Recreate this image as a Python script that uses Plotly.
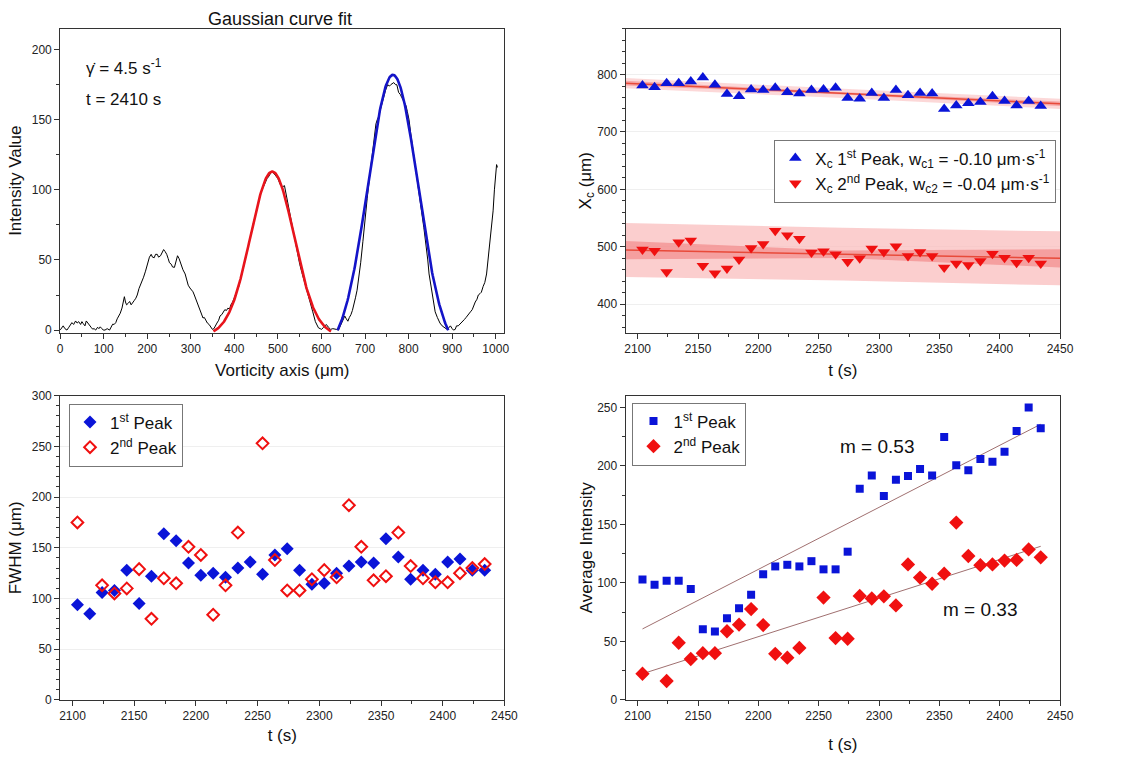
import numpy as np
import plotly.graph_objects as go
from plotly.subplots import make_subplots

FONT = "Arial, Liberation Sans, sans-serif"

# ---------------- intensity profile along the vorticity axis (t = 2410 s) ----------------
profile_x = [0, 4, 7, 11, 15.6, 20, 24, 27, 31, 35.5, 39, 42.6, 47, 50, 53, 57, 60, 63, 67, 71,
             74.5, 78, 81.6, 86, 89, 92, 96, 99, 103, 108, 113.5, 117, 120.6, 124, 127.7, 131,
             134.8, 138, 142, 145, 147.5, 150, 152.5, 156, 159.6, 163, 166.7, 170, 173.8, 177,
             181, 186, 191.5, 196, 199, 202, 205, 209, 212, 216, 219, 223, 226, 230.5, 234,
             237.6, 241, 244.7, 248, 251, 255, 258, 262.4, 266, 269.5, 273, 278, 282, 287, 291,
             294, 298, 301, 305, 308, 312, 316, 319, 322, 325, 328, 331, 335, 338, 342, 346,
             349.5, 353, 356, 360, 364, 367, 371, 375, 378, 382, 385, 389, 392, 396, 400, 405,
             410, 415, 420, 425, 430, 435, 440, 445, 450, 455, 460, 465, 470, 475, 480, 485, 490,
             495, 500, 505, 510, 515, 520, 525, 530, 535, 540, 545, 550, 555, 560, 565, 570, 575,
             580, 586, 590, 593, 597, 600, 605, 611, 616, 621, 626, 630, 634, 639, 643, 646.5,
             650, 653.5, 657, 660.6, 664, 667.6, 671, 674.6, 678, 681.7, 686, 690, 695, 700, 705,
             710, 715, 720, 725, 728, 731, 736, 741.5, 747, 752, 756, 759, 763, 766, 770, 773,
             777, 781, 784, 789, 794, 797, 801, 805, 810, 815, 820, 825, 830, 835, 840, 844, 847,
             851, 855, 858, 861, 866, 872, 877, 882, 886, 889, 893, 896, 900, 903, 907, 910, 914,
             917.5, 921, 925, 928, 932, 935, 939, 942, 946, 950, 953, 957, 960, 964, 967, 971,
             975, 979, 983, 987, 991, 994, 997, 1000, 1002, 1004]
profile_y = [0, 2, 3, 1, 0, 2, 4, 5.3, 4, 6.5, 5, 6, 4, 6, 4.6, 3, 6.5, 5, 3, 2,
             0.7, 1, 0, 2, 1, 2.3, 1, 0, 0, 1, 0, 2, 4.2, 4, 5.3, 8,
             10, 12, 15.7, 20, 23.8, 20, 18, 19, 20.4, 18, 19.2, 21, 22.7, 25,
             29.6, 33, 37.7, 42, 45, 48, 52, 54, 52, 51.6, 54, 54, 52, 53, 55,
             57.4, 56, 54, 51, 48, 47, 45, 44.7, 49, 53, 51, 45.8, 43, 40, 35,
             32, 30, 29, 27.3, 25, 21.5, 18, 15.7, 13, 11, 8.6, 9, 6.3, 5, 4, 2,
             0.5, 1, 3, 5, 7, 10, 11, 13, 14.5, 14, 15.6, 15, 18, 20, 23, 27,
             31, 37, 43, 50, 57, 64, 72, 78, 84, 91, 97, 101, 105, 108, 110, 113, 112,
             110, 108, 104, 102, 103, 95, 86, 78, 70, 62, 55, 47, 41, 35, 30, 24, 18,
             13, 6, 3, 1.6, 1, 0.5, 2, 4, 2, 0.5, 1, 1, 0.5, 0, 3, 5,
             8, 10, 8, 6.3, 9, 11, 14, 18, 23, 28.4, 38, 48, 63, 80, 94,
             108, 122, 135, 147, 150, 152, 158, 165, 171, 175, 174, 175, 176, 176.5, 175, 175,
             169.5, 168, 166, 163, 160, 156, 150, 140, 128, 117, 106, 95, 84, 73, 62, 50, 40,
             32, 25, 18, 13, 9, 5, 3, 1.6, 1, 0.5, 2, 3, 1, 0, 0.5, 3, 3,
             4, 5, 6, 7.5, 9, 10, 12, 13, 14.5, 18, 20, 22, 25, 26, 27, 31,
             34, 40, 52, 62, 75, 85, 100, 113, 118, 116]

# Gaussian fit results, y = y0 + A*exp(-(x-xc)^2 / (2 sigma^2)), drawn over [lo, hi]
fit_peak2 = dict(xc=487.0, A=117.0, sigma=50.0, y0=-4.0, lo=352.0, hi=622.0)
fit_peak1 = dict(xc=764.0, A=199.6, sigma=57.5, y0=-17.6, lo=637.0, hi=891.0)

# ---------------- time series ----------------
t = [2104, 2114, 2124, 2134, 2144, 2154, 2164, 2174, 2184, 2194, 2204, 2214, 2224, 2234, 2244,
     2254, 2264, 2274, 2284, 2294, 2304, 2314, 2324, 2334, 2344, 2354, 2364, 2374, 2384, 2394,
     2404, 2414, 2424, 2434]

xc_peak1 = [781, 778, 785, 785, 788, 795, 782, 766, 762, 774, 773, 777, 769, 767, 773, 774, 777,
            759, 758, 768, 759, 773, 764, 768, 767, 740, 746, 750, 752, 762, 754, 746, 754, 745]
xc_peak2 = [495, 493, 456, 508, 511, 467, 454, 462, 478, 498, 505, 528, 520, 514, 490, 492, 487,
            474, 480, 497, 491, 501, 484, 491, 484, 464, 471, 468, 475, 488, 481, 472, 481, 471]

fwhm_peak1 = [94, 85, 106, 108, 128, 95, 122, 164, 157, 135, 123, 125, 121, 130, 136, 124, 143,
              149, 128, 114, 115, 125, 132, 136, 135, 159, 141, 119, 128, 124, 136, 139, 128, 128]
fwhm_peak2 = [175, None, 113, 105, 110, 129, 80, 120, 115, 151, 143, 84, 113, 165, None, 253, 138,
              108, 108, 119, 128, 121, 192, 151, 118, 122, 165, 132, 120, 116, 116, 125, 130, 134]

avg_peak1 = [103, 98.4, 101.8, 101.8, 94.8, 60.4, 58.4, 69.9, 78.3, 90.0, 107.4, 114.1, 115.5,
             114.1, 118.6, 111.6, 111.6, 126.7, 180.4, 191.8, 174.2, 188.2, 191.3, 197.4, 191.8,
             224.8, 200.5, 196.3, 205.8, 203.6, 212.2, 229.9, 250.0, 232.1]
avg_peak2 = [22.4, None, 16.2, 48.9, 35.0, 40.0, 40.0, 58.7, 64.3, 77.7, 64.0, 39.4, 36.1, 44.5,
             None, 87.5, 52.9, 52.3, 88.9, 86.7, 88.6, 80.8, 115.8, 104.6, 99.3, 107.9, 151.6,
             123.0, 115.2, 115.8, 119.1, 119.7, 128.6, 121.9]

# Linear drift of the peak centres (um/s), value at the mid time, and band half-widths
w_c1, w_c2 = -0.10, -0.04
t_mid = 2270
xc1_mid, xc2_mid = 767.0, 487.0
band_t = [2090, 2270, 2450]
conf1_half = [4, 2, 4]
pred1_half = [9, 8, 9]
conf2_half = [16, 6.5, 16]
pred2_half = [47, 46, 47]

# Linear growth of the average intensity
m1, m2 = 0.53, 0.33
b1_start, b2_start = 60.7, 22.4
fit_t = [2104, 2434]

BLUE = "#0a14d8"
RED = "#f01010"

fig = make_subplots(rows=2, cols=2)

# ---- top left: profile with Gaussian fits ----
fig.add_trace(go.Scatter(x=profile_x, y=profile_y, mode="lines",
                         line=dict(color="black", width=1), showlegend=False), row=1, col=1)
for p, col in ((fit_peak2, "#e8141c"), (fit_peak1, "#1414c8")):
    gx = np.linspace(p["lo"], p["hi"], 200)
    gy = p["y0"] + p["A"] * np.exp(-(gx - p["xc"]) ** 2 / (2 * p["sigma"] ** 2))
    fig.add_trace(go.Scatter(x=gx, y=gy, mode="lines", line=dict(color=col, width=2.6),
                             showlegend=False), row=1, col=1)

# ---- top right: peak centre vs time with linear fits and bands ----
def band(mid, slope, half, fill):
    upper = [mid + slope * (tt - t_mid) + h for tt, h in zip(band_t, half)]
    lower = [mid + slope * (tt - t_mid) - h for tt, h in zip(band_t, half)]
    fig.add_trace(go.Scatter(x=band_t + band_t[::-1], y=upper + lower[::-1], fill="toself",
                             fillcolor=fill, line=dict(width=0), mode="lines",
                             hoverinfo="skip", showlegend=False), row=1, col=2)

band(xc2_mid, w_c2, pred2_half, "rgba(250,190,190,0.75)")
band(xc2_mid, w_c2, conf2_half, "rgba(240,120,120,0.55)")
band(xc1_mid, w_c1, pred1_half, "rgba(250,190,190,0.6)")
band(xc1_mid, w_c1, conf1_half, "rgba(240,120,120,0.5)")
for mid, slope in ((xc1_mid, w_c1), (xc2_mid, w_c2)):
    fig.add_trace(go.Scatter(x=[band_t[0], band_t[-1]],
                             y=[mid + slope * (band_t[0] - t_mid), mid + slope * (band_t[-1] - t_mid)],
                             mode="lines", line=dict(color="#e84a3a", width=1.5),
                             showlegend=False), row=1, col=2)

fig.add_trace(go.Scatter(x=t, y=xc_peak1, mode="markers",
                         marker=dict(symbol="triangle-up", size=11, color=BLUE),
                         name="X<sub>c</sub> 1<sup>st</sup> Peak, w<sub>c1</sub> = -0.10 \u03bcm\u00b7s<sup>-1</sup>",
                         legend="legend"), row=1, col=2)
fig.add_trace(go.Scatter(x=t, y=xc_peak2, mode="markers",
                         marker=dict(symbol="triangle-down", size=11, color=RED),
                         name="X<sub>c</sub> 2<sup>nd</sup> Peak, w<sub>c2</sub> = -0.04 \u03bcm\u00b7s<sup>-1</sup>",
                         legend="legend"), row=1, col=2)

# ---- bottom left: FWHM ----
fig.add_trace(go.Scatter(x=t, y=fwhm_peak1, mode="markers",
                         marker=dict(symbol="diamond", size=10, color=BLUE),
                         name="1<sup>st</sup> Peak", legend="legend2"), row=2, col=1)
fig.add_trace(go.Scatter(x=t, y=fwhm_peak2, mode="markers",
                         marker=dict(symbol="diamond-open", size=9, color=RED, line=dict(width=2)),
                         name="2<sup>nd</sup> Peak", legend="legend2"), row=2, col=1)

# ---- bottom right: average intensity ----
for m, b0 in ((m1, b1_start), (m2, b2_start)):
    fig.add_trace(go.Scatter(x=fit_t, y=[b0 + m * (tt - fit_t[0]) for tt in fit_t], mode="lines",
                             line=dict(color="#a07070", width=1), showlegend=False), row=2, col=2)
fig.add_trace(go.Scatter(x=t, y=avg_peak1, mode="markers",
                         marker=dict(symbol="square", size=8, color=BLUE),
                         name="1<sup>st</sup> Peak", legend="legend3"), row=2, col=2)
fig.add_trace(go.Scatter(x=t, y=avg_peak2, mode="markers",
                         marker=dict(symbol="diamond", size=11, color=RED),
                         name="2<sup>nd</sup> Peak", legend="legend3"), row=2, col=2)

# ---- axes ----
W, H = 1143, 758
left_dom = [58 / W, 509 / W]
right_dom = [632 / W, 1073 / W]
top_dom = [1 - 332 / H, 1 - 22 / H]
bot_dom = [1 - 706 / H, 1 - 396 / H]

def axis(rng, dtick, minor, title, grid=False, standoff=8, tick0=None):
    d = dict(range=rng, dtick=dtick, showline=True, linecolor="#333", linewidth=1, mirror=True,
             ticks="outside", ticklen=5, tickwidth=1, tickcolor="#333",
             tickfont=dict(family=FONT, size=12, color="#222"), zeroline=False,
             showgrid=grid, gridcolor="#efefef", gridwidth=1,
             minor=dict(ticks="outside", ticklen=3, tickcolor="#333", dtick=minor, showgrid=False),
             title=dict(text=title, font=dict(family=FONT, size=17, color="#111"), standoff=standoff))
    if tick0 is not None:
        d["tick0"] = tick0
    return d

fig.update_layout(
    xaxis=dict(axis([0, 1020], 100, 50, "Vorticity axis (\u03bcm)"), domain=left_dom),
    yaxis=dict(axis([-2, 215], 50, 25, "Intensity Value", standoff=5), domain=top_dom),
    xaxis2=dict(axis([2090, 2450], 50, 25, "t (s)"), domain=right_dom),
    yaxis2=dict(axis([350, 880], 100, 20, "X<sub>c</sub> (\u03bcm)", grid=True, tick0=400, standoff=0),
                domain=top_dom),
    xaxis3=dict(axis([2090, 2450], 50, 25, "t (s)", standoff=6), domain=left_dom),
    yaxis3=dict(axis([0, 300], 50, 10, "FWHM (\u03bcm)", grid=True, standoff=5), domain=bot_dom),
    xaxis4=dict(axis([2090, 2450], 50, 25, "t (s)", standoff=15), domain=right_dom),
    yaxis4=dict(axis([0, 260], 50, 25, "Average Intensity", standoff=0), domain=bot_dom),
)

legend_style = dict(bgcolor="white", bordercolor="#777", borderwidth=1,
                    font=dict(family=FONT, size=17, color="#111"),
                    xanchor="left", yanchor="top", tracegroupgap=0)
fig.update_layout(
    legend=dict(legend_style, x=783 / W, y=1 - 135 / H),
    legend2=dict(legend_style, x=67 / W, y=1 - 404 / H),
    legend3=dict(legend_style, x=639 / W, y=1 - 403 / H),
)

annotations = [
    dict(text="Gaussian curve fit", x=281 / W, y=1 - 12 / H, xref="paper", yref="paper",
         xanchor="center", yanchor="middle",
         showarrow=False, font=dict(family=FONT, size=18, color="#111")),
    dict(text="\u03b3\u0307 = 4.5 s<sup>-1</sup>", x=82 / W, y=1 - 48 / H, xref="paper", yref="paper",
         xanchor="left", showarrow=False, font=dict(family=FONT, size=17, color="#111")),
    dict(text="t = 2410 s", x=82 / W, y=1 - 83 / H, xref="paper", yref="paper",
         xanchor="left", showarrow=False, font=dict(family=FONT, size=17, color="#111")),
    dict(text="m = 0.53", x=2298, y=217, xref="x4", yref="y4", xanchor="center",
         showarrow=False, font=dict(family=FONT, size=19, color="#111")),
    dict(text="m = 0.33", x=2384, y=77.5, xref="x4", yref="y4", xanchor="center",
         showarrow=False, font=dict(family=FONT, size=19, color="#111")),
]

fig.update_layout(width=W, height=H, margin=dict(l=0, r=0, t=0, b=0),
                  plot_bgcolor="white", paper_bgcolor="white",
                  font=dict(family=FONT), annotations=annotations)

fig.write_html("out.html")
